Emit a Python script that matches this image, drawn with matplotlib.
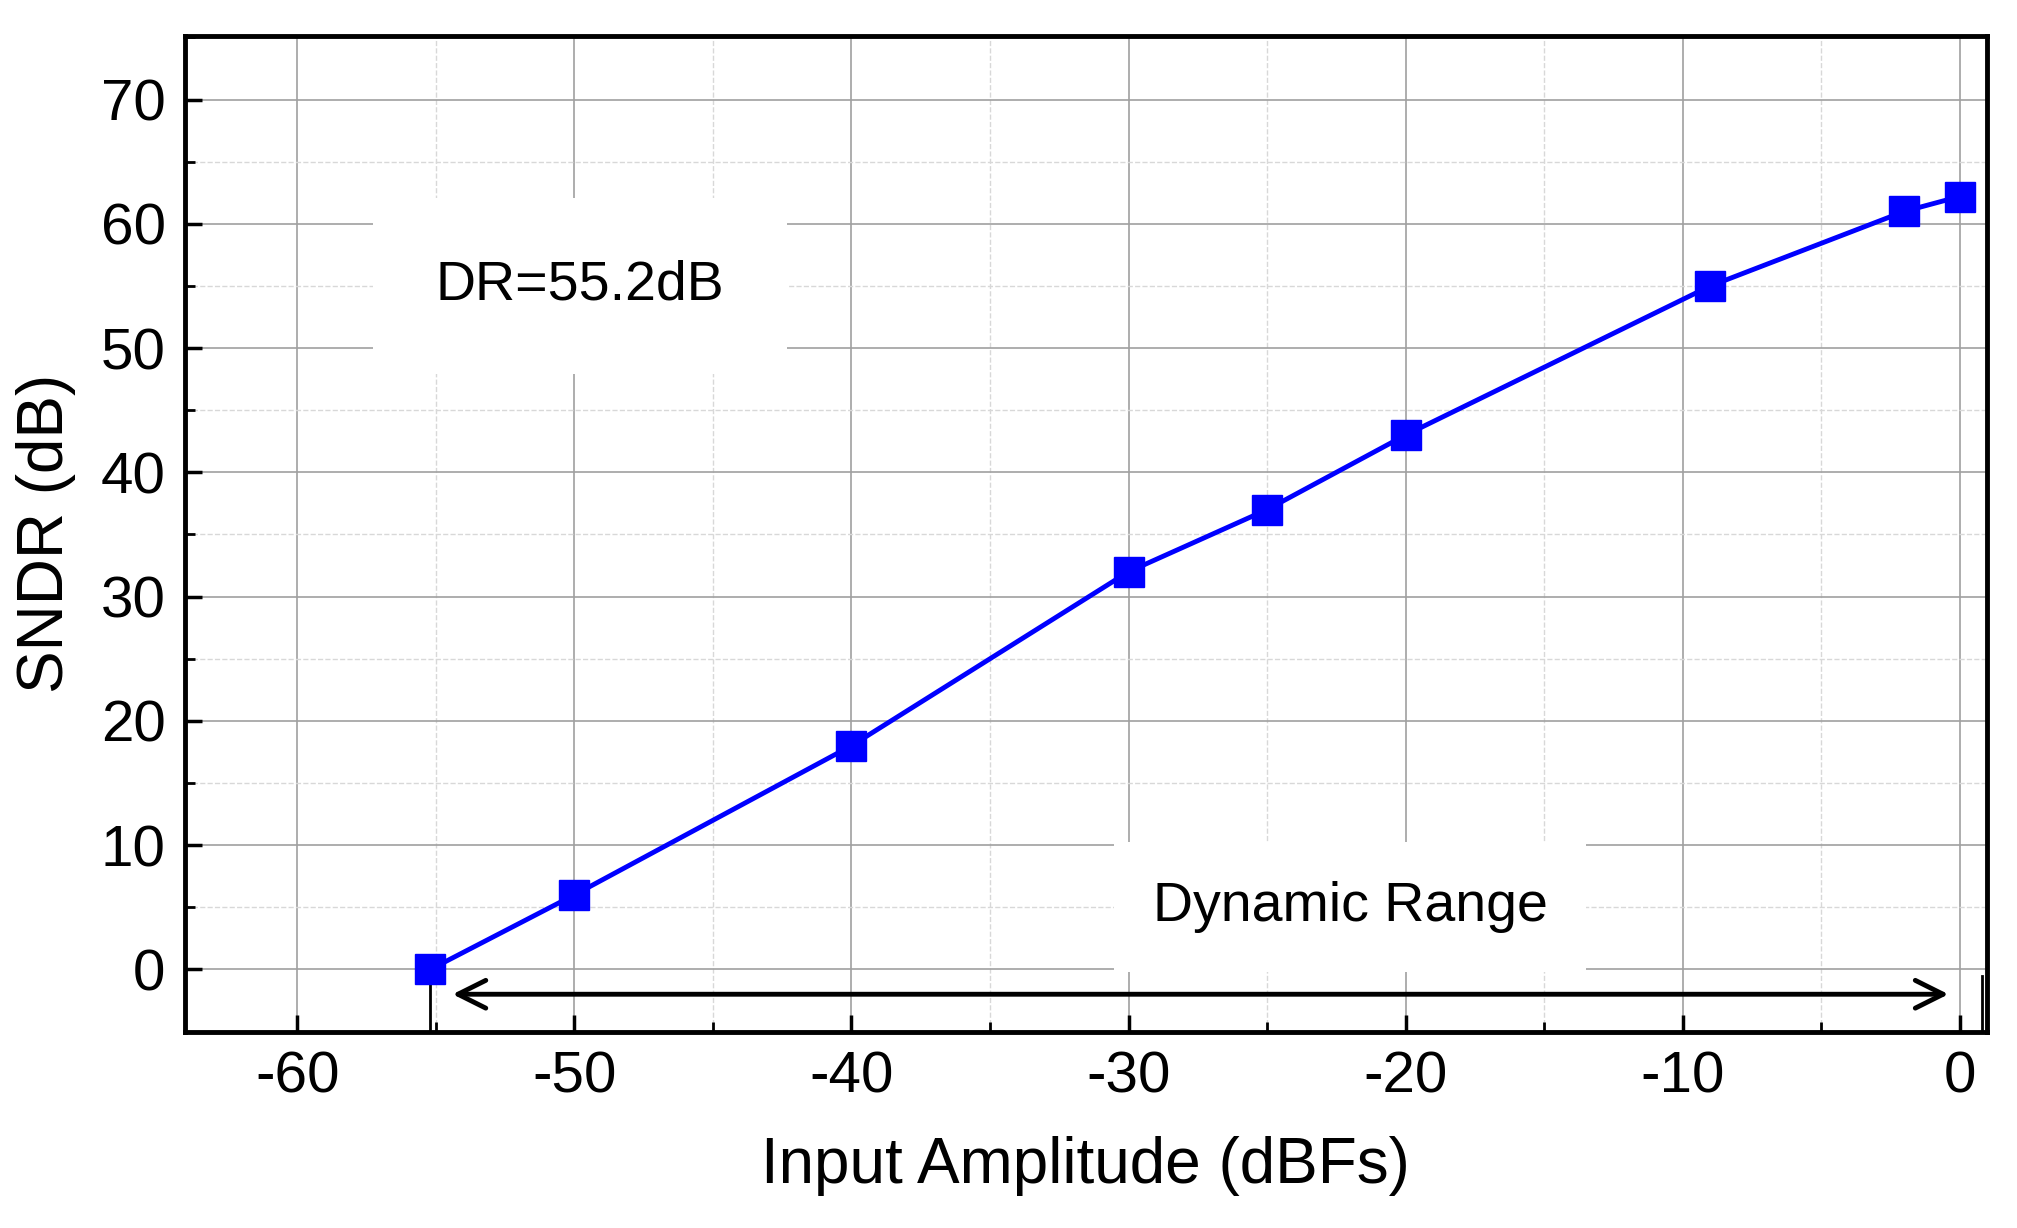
import matplotlib
matplotlib.use("Agg")
import matplotlib.pyplot as plt
from matplotlib.ticker import MultipleLocator

x_vals = [-55.2, -50, -40, -30, -25, -20, -9, -2, 0]
sndr = [0, 6, 18, 32, 37, 43, 55, 61, 62.2]
xticks = [-60, -50, -40, -30, -20, -10, 0]
yticks = [0, 10, 20, 30, 40, 50, 60, 70]

plt.rcParams['font.family'] = ['Arial', 'Liberation Sans', 'DejaVu Sans']
plt.rcParams['axes.unicode_minus'] = False
fig = plt.figure(figsize=(20.17, 12.28), dpi=100)
ax = fig.add_axes([0.0917, 0.16, 0.985 - 0.0917, 0.9705 - 0.16])
ax.set_xlim(-64.06, 0.98)
ax.set_ylim(-5, 75.1)
ax.set_xticks(xticks)
ax.set_yticks(yticks)
ax.xaxis.set_minor_locator(MultipleLocator(5))
ax.yaxis.set_minor_locator(MultipleLocator(5))
ax.grid(which='major', color='#a0a0a0', lw=1.2)
ax.grid(which='minor', color='#d8d8d8', lw=1, ls='--')
ax.set_axisbelow(True)
for s in ax.spines.values():
    s.set_linewidth(3.5)
ax.tick_params(which='major', length=12, width=2.5, labelsize=42, pad=14, direction='in')
ax.tick_params(which='minor', length=7, width=2, direction='in')

ax.plot(x_vals, sndr, color='#0000ff', lw=3.5, marker='s', markersize=22, zorder=5)

ax.text(-49.8, 55, 'DR=55.2dB', fontsize=40, ha='center', va='center',
        bbox=dict(facecolor='white', edgecolor='none', pad=45), zorder=3)
ax.text(-22, 5, 'Dynamic Range', fontsize=40, ha='center', va='center',
        bbox=dict(facecolor='white', edgecolor='none', pad=28), zorder=3)
ax.annotate('', xy=(-0.3, -2), xytext=(-54.5, -2),
            arrowprops=dict(arrowstyle='<->', lw=3.5, color='black', mutation_scale=50), zorder=4)
ax.plot([-55.2, -55.2], [-5, 0], color='black', lw=2, zorder=4)
ax.plot([0.8, 0.8], [-5, -0.5], color='black', lw=2, zorder=4)

ax.set_xlabel('Input Amplitude (dBFs)', fontsize=46, labelpad=22)
ax.set_ylabel('SNDR (dB)', fontsize=46, labelpad=18)
fig.savefig('out.png', dpi=100)
